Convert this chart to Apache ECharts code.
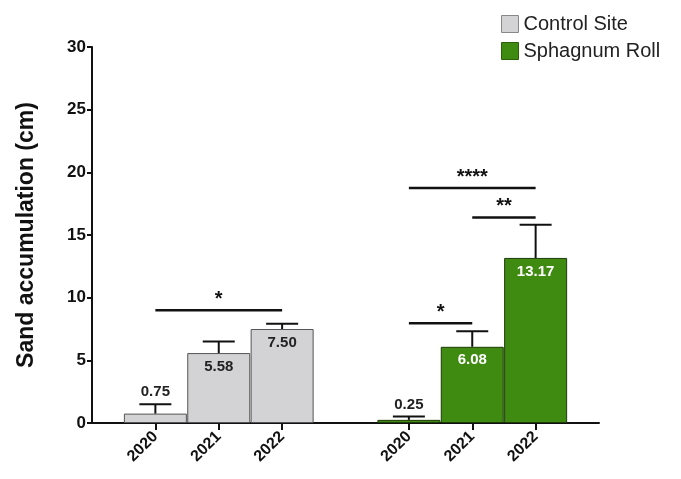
<!DOCTYPE html>
<html>
<head>
<meta charset="utf-8">
<script src="https://cdn.jsdelivr.net/npm/echarts@6/dist/echarts.min.js"></script>
<style>
  html, body { margin: 0; padding: 0; background: #ffffff; }
  #chart { width: 681px; height: 479px; }
</style>
</head>
<body>
<div id="chart"></div>
<script>
// Slots along the x axis: blank slots pad the ends and separate the two groups
const categories = ['', '2020', '2021', '2022', '', '2020', '2021', '2022', ''];

// Mean sand accumulation (cm) and upper error (SEM) per year
const controlIdx = [1, 2, 3];
const controlValues = [0.75, 5.58, 7.50];
const controlErrors = [0.75, 0.92, 0.42];

const sphagnumIdx = [5, 6, 7];
const sphagnumValues = [0.25, 6.08, 13.17];
const sphagnumErrors = [0.27, 1.25, 2.65];

// Significance brackets: from slot, to slot, height (cm), stars
const sigFrom = [1, 5, 6, 5];
const sigTo = [3, 6, 7, 7];
const sigHeight = [9.0, 7.95, 16.4, 18.75];
const sigText = ['*', '*', '**', '****'];

const yTicks = [0, 5, 10, 15, 20, 25, 30];

const FONT = 'Liberation Sans, Arial, sans-serif';
const GREY = '#d3d3d5';
const GREEN = '#3f8a10';

function slotData(idx, vals, labelFor) {
  const out = categories.map(() => null);
  idx.forEach((k, i) => { out[k] = labelFor(vals[i], i); });
  return out;
}

const controlData = slotData(controlIdx, controlValues, (v, i) => ({
  value: v,
  label: i === 0
    ? { position: 'top', distance: 14, color: '#222' }
    : { position: 'insideTop', distance: 6, color: '#222' }
}));
const sphagnumData = slotData(sphagnumIdx, sphagnumValues, (v, i) => ({
  value: v,
  label: i === 0
    ? { position: 'top', distance: 8, color: '#222' }
    : { position: 'insideTop', distance: 6, color: '#ffffff' }
}));

const errData = [];
controlIdx.forEach((k, i) => errData.push([k, controlValues[i], controlErrors[i]]));
sphagnumIdx.forEach((k, i) => errData.push([k, sphagnumValues[i], sphagnumErrors[i]]));

const sigData = sigFrom.map((f, i) => [f, sigTo[i], sigHeight[i]]);

const chart = echarts.init(document.getElementById('chart'), null, { renderer: 'canvas' });

const barLabel = {
  show: true,
  fontFamily: FONT,
  fontWeight: 'bold',
  fontSize: 15,
  formatter: p => p.value.toFixed(2)
};

chart.setOption({
  animation: false,
  backgroundColor: '#ffffff',
  textStyle: { fontFamily: FONT },
  legend: {
    orient: 'vertical',
    left: 496,
    top: 9,
    itemWidth: 17,
    itemHeight: 17,
    itemGap: 7,
    textStyle: { fontFamily: FONT, fontSize: 20, color: '#222' },
    data: [
      { name: 'Control Site', icon: 'rect', itemStyle: { color: GREY, borderColor: '#888', borderWidth: 1 } },
      { name: 'Sphagnum Roll', icon: 'rect', itemStyle: { color: GREEN, borderColor: '#2d5e0a', borderWidth: 1 } }
    ]
  },
  grid: { left: 92, right: 82, top: 47, bottom: 56, containLabel: false },
  xAxis: {
    type: 'category',
    data: categories,
    boundaryGap: false,
    axisLine: { lineStyle: { color: '#111', width: 2 } },
    axisTick: {
      alignWithLabel: true,
      length: 7,
      lineStyle: { color: '#111', width: 2 },
      interval: (i, v) => v !== ''
    },
    axisLabel: {
      interval: 0,
      rotate: 45,
      margin: 11,
      fontFamily: FONT,
      fontWeight: 'bold',
      fontSize: 16,
      color: '#111'
    },
    splitLine: { show: false }
  },
  yAxis: {
    type: 'value',
    min: yTicks[0],
    max: yTicks[yTicks.length - 1],
    interval: 5,
    name: 'Sand accumulation (cm)',
    nameLocation: 'middle',
    nameGap: 54,
    nameRotate: 90,
    nameTextStyle: { fontFamily: FONT, fontWeight: 'bold', fontSize: 23, color: '#111' },
    axisLine: { show: true, lineStyle: { color: '#111', width: 2 } },
    axisTick: { show: true, length: 5, lineStyle: { color: '#111', width: 2 } },
    axisLabel: { fontFamily: FONT, fontWeight: 'bold', fontSize: 17, color: '#111', margin: 6 },
    splitLine: { show: false }
  },
  series: [
    {
      name: 'Control Site',
      type: 'bar',
      barWidth: 63,
      barGap: '-100%',
      data: controlData,
      itemStyle: { color: GREY, borderColor: '#555', borderWidth: 1 },
      label: barLabel,
      z: 2
    },
    {
      name: 'Sphagnum Roll',
      type: 'bar',
      barWidth: 63,
      barGap: '-100%',
      data: sphagnumData,
      itemStyle: { color: GREEN, borderColor: '#1e3a08', borderWidth: 1 },
      label: barLabel,
      z: 2
    },
    {
      // upper error whiskers
      type: 'custom',
      data: errData,
      z: 3,
      silent: true,
      renderItem: (params, api) => {
        const x = api.value(0);
        const v = api.value(1);
        const e = api.value(2);
        const base = api.coord([x, v]);
        const top = api.coord([x, v + e]);
        const half = 16;
        const style = { stroke: '#111', lineWidth: 2 };
        return {
          type: 'group',
          children: [
            { type: 'line', shape: { x1: base[0], y1: base[1], x2: top[0], y2: top[1] }, style },
            { type: 'line', shape: { x1: top[0] - half, y1: top[1], x2: top[0] + half, y2: top[1] }, style }
          ]
        };
      }
    },
    {
      // significance brackets with stars
      type: 'custom',
      data: sigData,
      z: 3,
      silent: true,
      renderItem: (params, api) => {
        const a = api.coord([api.value(0), api.value(2)]);
        const b = api.coord([api.value(1), api.value(2)]);
        return {
          type: 'group',
          children: [
            { type: 'line', shape: { x1: a[0], y1: a[1], x2: b[0], y2: b[1] }, style: { stroke: '#111', lineWidth: 2.5 } },
            {
              type: 'text',
              style: {
                x: (a[0] + b[0]) / 2,
                y: a[1] - 1,
                text: sigText[params.dataIndex],
                fill: '#111',
                font: 'bold 20px ' + FONT,
                align: 'center',
                verticalAlign: 'bottom'
              }
            }
          ]
        };
      }
    }
  ]
});
</script>
</body>
</html>
